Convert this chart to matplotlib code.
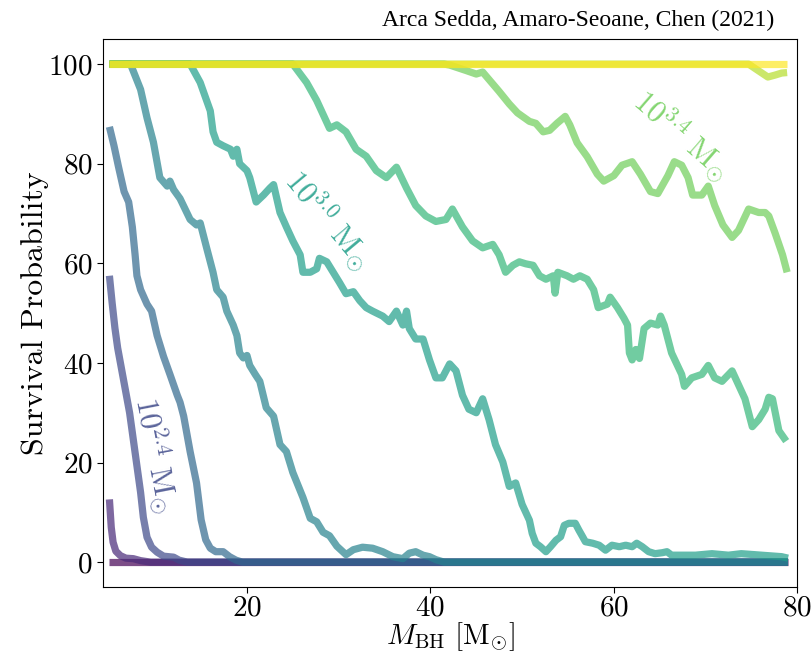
import numpy as np
import matplotlib.pyplot as plt

plt.rcParams['mathtext.fontset'] = 'cm'
plt.rcParams['font.family'] = 'serif'
plt.rcParams['font.serif'] = ['cmr10']
plt.rcParams['axes.formatter.use_mathtext'] = True

# cluster masses, log10(M / Msun)
log_mass = [2.0, 2.2, 2.4, 2.6, 2.8, 3.0, 3.2, 3.4, 3.6, 3.8]

# survival probability (%) vs BH mass, one pair of lists per cluster mass
mbh_20 = [5.0, 79.0]
surv_20 = [0.0, 0.0]

mbh_22 = [5.0, 5.2, 5.4, 5.7, 6.2, 6.8, 7.6, 8.4, 9.5, 79.0]
surv_22 = [12.6, 7.0, 4.0, 2.2, 1.3, 0.8, 0.7, 0.3, 0.0, 0.0]

mbh_24 = [5.0, 5.3, 5.6, 5.9, 6.2, 6.5, 6.8, 7.2, 7.5, 7.8, 8.1, 8.4, 8.7,
          9.1, 9.6, 10.2, 10.9, 12.0, 12.6, 13.5, 79.0]
surv_24 = [57.5, 52, 47, 43, 40, 37, 34, 30, 26, 22, 18, 14, 9,
           5, 3, 2, 1.2, 1.0, 0.4, 0.0, 0.0]

mbh_26 = [5.0, 5.5, 6.0, 6.6, 7.1, 7.5, 7.8, 8.0, 8.4, 9.1, 9.6, 10.2, 10.9,
          11.6, 12.4, 12.7, 13.1, 13.8, 14.5, 15.0, 15.5, 16.0, 16.6, 17.4,
          18.1, 18.8, 19.5, 79.0]
surv_26 = [87.4, 83.6, 79.3, 74.4, 72.3, 67.3, 61.7, 57.5, 54.7, 51.8, 50.4, 45.5, 41.3,
           37.7, 33.5, 32.1, 29.3, 22.2, 15.9, 8.5, 4.5, 2.8, 2.1, 2.1,
           1.1, 0.4, 0.0, 0.0]

mbh_28 = [5.0, 7.3, 8.4, 9.1, 9.8, 10.5, 11.3, 11.6, 12.0, 12.7, 13.8, 14.5, 14.9,
          15.6, 16.3, 16.7, 17.4, 17.8, 18.5, 18.9, 19.2, 19.6, 20.0, 20.3, 20.9,
          21.4, 22.1, 22.9, 23.6, 24.3, 25.0, 26.1, 26.9, 27.6, 28.3, 29.0, 29.8,
          30.8, 31.6, 32.6, 33.7, 34.8, 35.9, 37.0, 37.7, 38.4, 39.2, 39.9, 40.6,
          41.5, 79.0]
surv_28 = [100, 100, 94.9, 89.2, 84.3, 77.2, 75.5, 76.5, 74.8, 73.0, 68.8, 67.7, 68.1,
           63.1, 58.2, 54.7, 53.2, 50.4, 47.6, 45.5, 42.0, 41.0, 41.5, 39.5, 37.7,
           36.3, 31.0, 29.3, 23.6, 22.2, 18.0, 13.0, 8.8, 8.1, 6.0, 5.3, 3.2,
           1.5, 2.5, 3.0, 2.8, 2.1, 1.1, 0.7, 1.8, 2.1, 1.4, 1.1, 0.5,
           0.0, 0.0]

mbh_30 = [5.0, 13.8, 14.9, 16.0, 16.3, 16.7, 17.4, 18.2, 18.5, 18.9, 19.2, 20.0, 20.3,
          21.0, 21.8, 22.5, 22.9, 23.6, 24.3, 25.0, 25.8, 26.1, 26.9, 27.6, 27.9,
          28.7, 29.4, 30.1, 30.8, 31.6, 32.3, 33.0, 33.7, 34.8, 35.5, 36.3, 37.0,
          37.4, 37.7, 38.4, 39.2, 39.9, 40.6, 41.3, 42.1, 42.8, 43.5, 44.2, 45.0,
          45.7, 46.4, 47.1, 47.9, 48.6, 49.3, 50.0, 50.8, 51.1, 51.5, 52.0, 52.6,
          53.1, 53.7, 54.2, 54.6, 55.1, 55.8, 56.2, 56.6, 56.9, 57.7, 58.4, 59.1,
          59.8, 60.6, 61.3, 62.0, 62.5, 63.1, 63.8, 64.5, 65.3, 65.8, 66.3, 67.4,
          68.9, 70.7, 72.5, 73.9, 76.1, 78.3, 79.0]
surv_30 = [100, 100, 96.3, 90.6, 86.4, 84.3, 83.6, 82.9, 81.5, 82.9, 80.0, 78.6, 77.2,
           72.3, 73.7, 75.1, 75.8, 70.2, 67.3, 64.5, 61.7, 58.2, 58.2, 58.9, 61.0,
           60.3, 58.2, 56.1, 53.9, 54.3, 52.5, 51.1, 50.4, 49.4, 48.3, 50.4, 47.6,
           50.4, 46.9, 44.8, 44.8, 40.6, 37.0, 37.0, 39.8, 38.4, 33.5, 30.7, 30.0,
           32.8, 28.6, 23.6, 20.1, 15.2, 15.9, 11.6, 8.4, 5.8, 3.8, 3.1, 2.1,
           3.1, 4.4, 5.1, 7.4, 7.8, 7.8, 6.4, 5.1, 4.1, 3.8, 3.4, 2.4,
           3.4, 3.1, 3.4, 3.1, 3.8, 3.1, 2.1, 1.7, 1.9, 2.1, 1.4, 1.4,
           1.4, 1.7, 1.4, 1.7, 1.4, 1.1, 0.8]

mbh_32 = [5.0, 25.0, 26.5, 27.6, 29.0, 29.8, 30.8, 31.9, 33.0, 34.1, 35.2, 36.3, 37.4,
          38.4, 39.5, 40.6, 41.7, 42.4, 43.5, 44.6, 45.7, 46.8, 47.5, 48.2, 49.0,
          49.7, 50.4, 51.2, 51.9, 52.6, 53.4, 53.6, 53.9, 54.9, 55.6, 56.3, 57.1,
          57.8, 58.3, 59.3, 59.6, 60.4, 61.1, 61.5, 61.7, 62.0, 62.4, 62.8, 63.3,
          64.0, 64.8, 65.1, 65.5, 66.3, 67.4, 67.7, 68.5, 69.6, 70.3, 71.0, 71.8,
          72.9, 73.6, 74.3, 75.1, 75.8, 76.5, 76.9, 77.3, 78.0, 78.8]
surv_32 = [100, 100, 96.3, 92.7, 87.1, 87.8, 86.4, 82.9, 81.5, 78.6, 77.2, 79.3, 75.1,
           71.6, 69.5, 68.4, 68.8, 70.9, 67.3, 64.5, 63.1, 63.8, 61.7, 58.2, 59.6,
           60.3, 59.9, 59.6, 57.5, 56.8, 57.5, 54.0, 58.2, 57.5, 56.8, 57.5, 56.8,
           54.7, 51.1, 51.8, 53.2, 51.1, 49.0, 47.6, 42.0, 40.6, 42.7, 40.9, 46.9,
           48.0, 47.6, 49.4, 47.6, 42.0, 37.7, 35.3, 37.0, 37.7, 39.5, 37.0, 36.3,
           38.4, 35.6, 32.8, 27.2, 28.6, 30.7, 33.1, 32.8, 26.4, 24.3]

mbh_34 = [5.0, 41.5, 42.1, 43.9, 45.0, 45.7, 47.5, 48.6, 49.5, 50.8, 51.5, 52.3, 53.0,
          53.8, 54.7, 55.2, 56.0, 57.1, 58.2, 58.9, 60.0, 60.9, 62.0, 62.9, 64.0,
          64.8, 65.9, 66.6, 67.4, 68.1, 68.6, 69.6, 70.3, 71.0, 71.9, 72.9, 73.6,
          74.7, 75.8, 76.5, 76.9, 77.6, 78.4, 78.9]
surv_34 = [100, 100, 99.8, 98.7, 98.0, 98.4, 94.5, 92.0, 90.2, 88.5, 88.1, 86.4, 86.7,
           88.1, 89.5, 87.8, 84.2, 81.4, 77.9, 76.5, 77.6, 79.7, 80.4, 77.9, 74.4,
           74.0, 77.6, 80.4, 79.7, 77.2, 73.7, 73.7, 75.5, 71.6, 67.7, 65.2, 66.6,
           70.9, 70.2, 70.2, 69.5, 66.0, 61.7, 58.2]

mbh_36 = [5.0, 74.7, 75.5, 76.8, 77.6, 78.3, 78.9]
surv_36 = [100, 100, 99.0, 97.4, 97.8, 98.2, 98.3]

mbh_38 = [5.0, 78.9]
surv_38 = [100, 100]

curves = [(mbh_20, surv_20), (mbh_22, surv_22), (mbh_24, surv_24),
          (mbh_26, surv_26), (mbh_28, surv_28), (mbh_30, surv_30),
          (mbh_32, surv_32), (mbh_34, surv_34), (mbh_36, surv_36),
          (mbh_38, surv_38)]

cmap = plt.get_cmap('viridis')
lo, hi = log_mass[0], log_mass[-1]
colors = [cmap((m - lo) / (hi - lo)) for m in log_mass]

fig = plt.figure(figsize=(8.11, 6.53), dpi=100)
ax = fig.add_axes([0.127, 0.101, 0.856, 0.839])

for (x, y), c in zip(curves, colors):
    ax.plot(x, y, color=c, lw=5.2, alpha=0.7, solid_capstyle='butt')

# in-line labels for a few cluster masses
labels = [(2.4, 10.0, 21.5, -79), (3.0, 28.8, 68.7, -50), (3.4, 67.4, 85.7, -41)]
for m, xt, yt, rot in labels:
    c = colors[log_mass.index(m)]
    ax.text(xt, yt, r'$10^{%.1f}\ {\rm M}_{\odot}$' % m, color=c, alpha=0.85,
            fontsize=22, rotation=rot, ha='center', va='center',
            rotation_mode='anchor')

ax.set_xlim(4.3, 80)
ax.set_ylim(-5, 105)
ax.set_xticks([20, 40, 60, 80])
ax.set_yticks([0, 20, 40, 60, 80, 100])
ax.tick_params(labelsize=21, length=4, width=0.8)
ax.tick_params(axis='x', pad=2)
ax.set_xlabel(r'$M_{\rm BH}\ [{\rm M}_{\odot}]$', fontsize=21)
ax.set_ylabel('Survival Probability', fontsize=23)
ax.xaxis.set_label_coords(0.5, -0.06)
ax.yaxis.set_label_coords(-0.078, 0.5)

fig.text(0.955, 0.969, 'Arca Sedda, Amaro-Seoane, Chen (2021)',
         family='Liberation Serif', fontsize=17, ha='right', va='center')

fig.savefig('out.png', dpi=100)
